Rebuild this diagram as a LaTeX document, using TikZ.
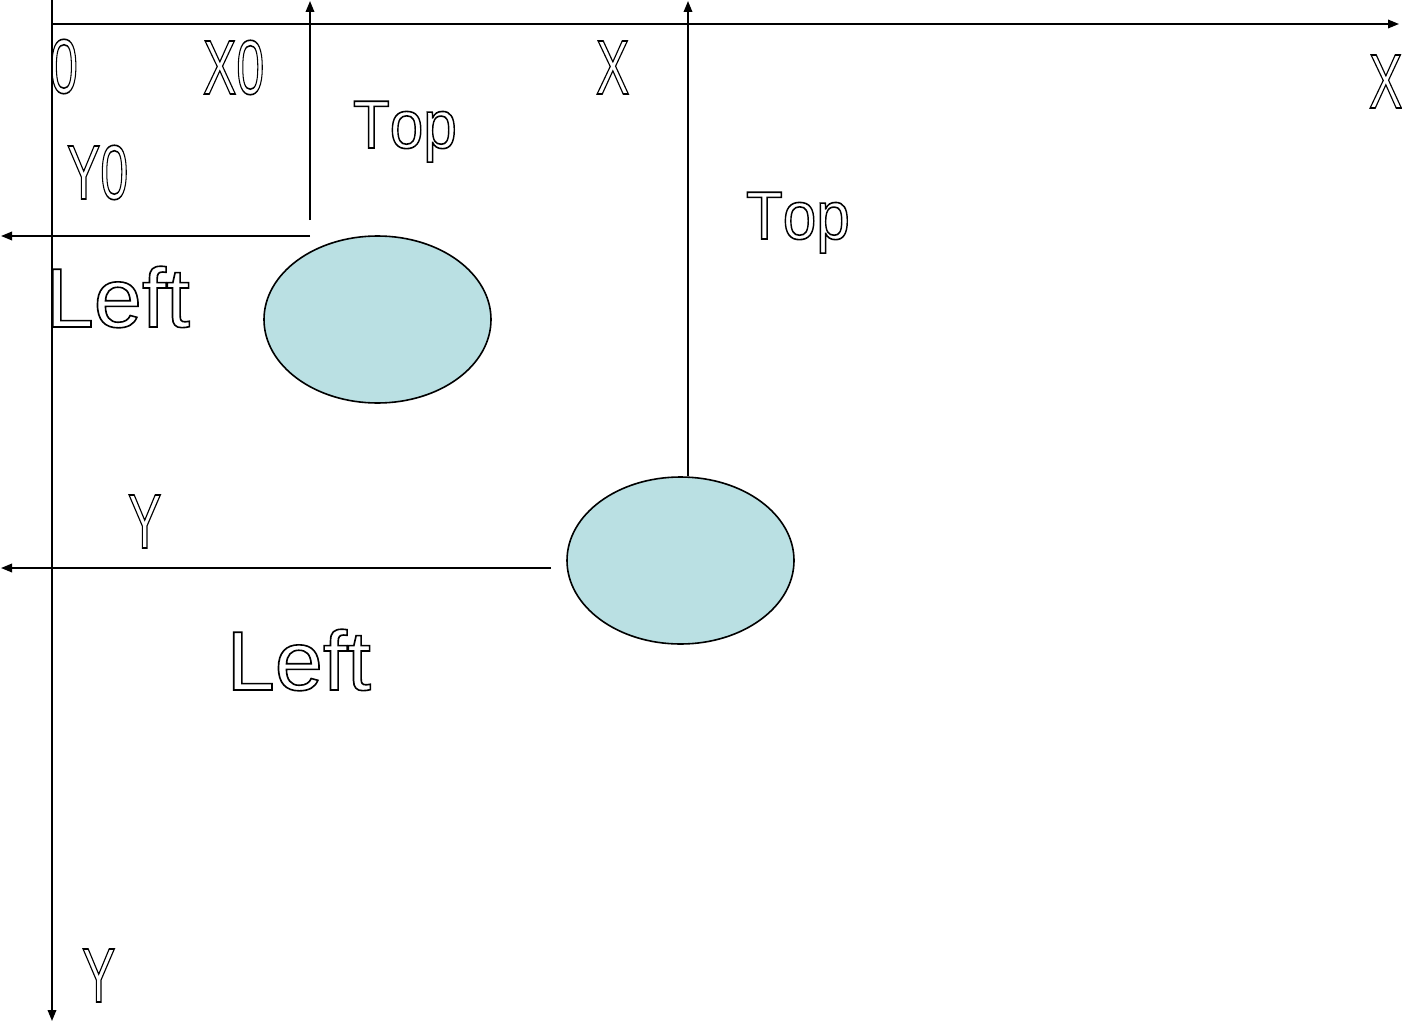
\documentclass[tikz,border=0pt]{standalone}
\usepackage{fontspec}
\setmainfont{Liberation Sans}[Kerning=Off]
\usetikzlibrary{shapes.geometric,arrows.meta}
\definecolor{blobfill}{RGB}{186,224,227}
\newcommand\outl[1]{\special{pdf:literal direct 0 G 1 Tr 1.6 w}#1\special{pdf:literal direct 0 Tr}}
\newcommand\condtxt[1]{\fontsize{77}{80}\selectfont\scalebox{0.65}[1]{\outl{#1}}}
\newcommand\toptxt[1]{\fontsize{68}{70}\selectfont\scalebox{0.886}[1]{\outl{#1}}}
\newcommand\lefttxt[1]{\fontsize{84}{86}\selectfont\scalebox{1.03}[1]{\outl{#1}}}
\tikzset{
  arr/.style={line width=1.8pt,-{Triangle[length=11pt,width=8.5pt]}},
  blob/.style={ellipse,draw,line width=1.6pt,fill=blobfill,inner sep=0pt,minimum width=227pt,minimum height=167pt},
  lbl/.style={anchor=base west,inner sep=0pt,outer sep=0pt}
}
\begin{document}
\begin{tikzpicture}[x=1pt,y=-1pt]
\useasboundingbox (0,0) rectangle (1402,1022);
% axes
\coordinate (o) at (52,24);
\coordinate (xend) at (1399,24);
\coordinate (ytop) at (52,0);
\coordinate (yend) at (52,1021);
\draw[arr] (o) -- (xend);
\draw[arr] (ytop) -- (yend);
% ellipses
\node[blob] (e1) at (377.5,319.5) {};
\node[blob] (e2) at (680.5,560.5) {};
% first position lines
\coordinate (v1s) at (310,220);
\coordinate (v1e) at (310,1);
\coordinate (h1s) at (310,236);
\coordinate (h1e) at (1,236);
\draw[arr] (v1s) -- (v1e);
\draw[arr] (h1s) -- (h1e);
% second position lines
\coordinate (v2e) at (688,1);
\coordinate (h2s) at (551,568);
\coordinate (h2e) at (1,568);
\draw[arr] (e2.north -| v2e) -- (v2e);
\draw[arr] (h2s) -- (h2e);
% labels
\node[lbl] (l0) at (50,93) {\condtxt{0}};
\node[lbl] (lx0) at (203,94) {\condtxt{X0}};
\node[lbl] (lx) at (596,94) {\condtxt{X}};
\node[lbl] (lxr) at (1369,108) {\condtxt{X}};
\node[lbl] (ly0) at (67,199) {\condtxt{Y0}};
\node[lbl] (ly) at (128,548) {\condtxt{Y}};
\node[lbl] (lyb) at (82,1002) {\condtxt{Y}};
\node[lbl] (top1) at (353,148) {\toptxt{Top}};
\node[lbl] (top2) at (746,239) {\toptxt{Top}};
\node[lbl] (left1) at (45.7,327) {\lefttxt{Left}};
\node[lbl] (left2) at (226.7,690) {\lefttxt{Left}};
\end{tikzpicture}
\end{document}
